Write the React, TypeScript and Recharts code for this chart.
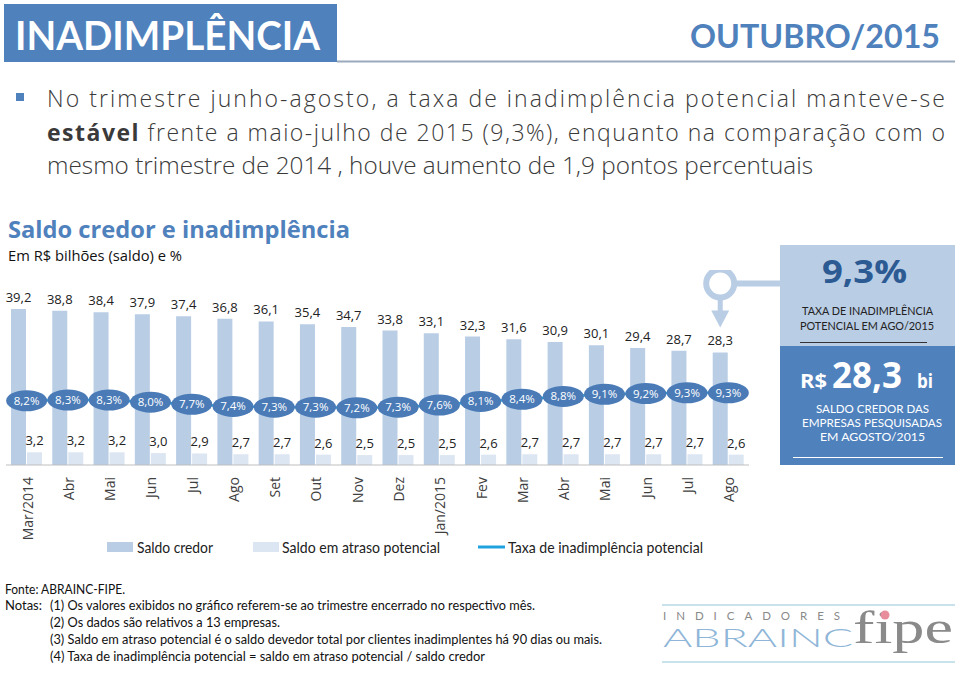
import React from "react";
import { ComposedChart, Bar, Line, XAxis, YAxis, LabelList } from "recharts";

const months = ["Mar/2014", "Abr", "Mai", "Jun", "Jul", "Ago", "Set", "Out", "Nov", "Dez", "Jan/2015", "Fev", "Mar", "Abr", "Mai", "Jun", "Jul", "Ago"];
const saldoCredor = [39.2, 38.8, 38.4, 37.9, 37.4, 36.8, 36.1, 35.4, 34.7, 33.8, 33.1, 32.3, 31.6, 30.9, 30.1, 29.4, 28.7, 28.3];
const saldoAtraso = [3.2, 3.2, 3.2, 3.0, 2.9, 2.7, 2.7, 2.6, 2.5, 2.5, 2.5, 2.6, 2.7, 2.7, 2.7, 2.7, 2.7, 2.6];
const taxaInadimplencia = [8.2, 8.3, 8.3, 8.0, 7.7, 7.4, 7.3, 7.3, 7.2, 7.3, 7.6, 8.1, 8.4, 8.8, 9.1, 9.2, 9.3, 9.3];

const data = months.map((mes, i) => ({
  mes,
  credor: saldoCredor[i],
  atraso: saldoAtraso[i],
  taxa: taxaInadimplencia[i],
}));

const BLUE = "#4f81bd";
const BAR_DARK = "#b9cde5";
const BAR_LIGHT = "#dce6f2";
const LINE = "#1fa2de";
const SEGOE = '"Open Sans", "Noto Sans", sans-serif';
const CALIBRI = 'Lato, "Open Sans", sans-serif';

const fmt = (v: number, d = 1) => v.toFixed(d).replace(".", ",");

const box = (p: any) => {
  const vb = p.viewBox || {};
  return {
    x: vb.x ?? p.x ?? 0,
    y: vb.y ?? p.y ?? 0,
    w: vb.width ?? p.width ?? 0,
  };
};

const CredorLabel = (p: any) => {
  const { x, y, w } = box(p);
  const cx = x + w / 2;
  const last = p.index === data.length - 1;
  return (
    <g>
      <text x={cx} y={y - 7} textAnchor="middle" fontSize={13} fontFamily={SEGOE} fill="#222">
        {fmt(Number(p.value))}
      </text>
      {last && (
        <g>
          <circle cx={cx} cy={y - 69} r={14} fill="none" stroke={BAR_DARK} strokeWidth={6} />
          <line x1={cx + 16} y1={y - 69} x2={cx + 62} y2={y - 69} stroke={BAR_DARK} strokeWidth={6} />
          <rect x={cx - 2.5} y={y - 53} width={5} height={12} fill={BAR_DARK} />
          <polygon points={`${cx - 9},${y - 42} ${cx + 9},${y - 42} ${cx},${y - 25}`} fill={BAR_DARK} />
        </g>
      )}
    </g>
  );
};

const AtrasoLabel = (p: any) => {
  const { x, y, w } = box(p);
  return (
    <text x={x + w / 2} y={y - 7} textAnchor="middle" fontSize={13} fontFamily={SEGOE} fill="#222">
      {fmt(Number(p.value))}
    </text>
  );
};

const TaxaLabel = (p: any) => {
  const { x, y } = box(p);
  return (
    <g>
      <ellipse cx={x} cy={y} rx={20.5} ry={10.5} fill="#4a7bb7" />
      <text x={x} y={y} dy="0.35em" textAnchor="middle" fontSize={11.5} fontFamily={SEGOE} fill="#fff">
        {fmt(Number(p.value))}%
      </text>
    </g>
  );
};

const MonthTick = (p: any) => {
  const { x, y, payload } = p;
  const ty = y + 4;
  return (
    <text
      x={x + 1}
      y={ty}
      transform={`rotate(-90, ${x + 1}, ${ty})`}
      textAnchor="end"
      dy="0.35em"
      fontSize={14}
      fontFamily={SEGOE}
      fill="#404040"
    >
      {payload.value}
    </text>
  );
};

const Page = () => (
  <svg width={960} height={673} style={{ position: "absolute", left: 0, top: 0 }}>
    {/* header */}
    <rect x={4} y={4} width={333} height={58} fill={BLUE} />
    <line x1={337} y1={61.5} x2={955} y2={61.5} stroke="#9aaabb" strokeWidth={2} />
    <text x={15} y={50} fontSize={40} fontWeight={700} fontFamily={CALIBRI} fill="#fff" textLength={305} lengthAdjust="spacingAndGlyphs">
      INADIMPLÊNCIA
    </text>
    <text x={690} y={48} fontSize={33} fontWeight={700} fontFamily={CALIBRI} fill={BLUE} textLength={250} lengthAdjust="spacingAndGlyphs">
      OUTUBRO/2015
    </text>

    {/* paragraph */}
    <rect x={16} y={93} width={8} height={8} fill={BLUE} />
    <g fontFamily={SEGOE} fontSize={23} fontWeight={300} fill="#3a3a3a">
      <text x={47} y={107} textLength={898} lengthAdjust="spacing">
        No trimestre junho-agosto, a taxa de inadimplência potencial manteve-se
      </text>
      <text x={47} y={141} textLength={898} lengthAdjust="spacing">
        <tspan fontWeight={700}>estável</tspan> frente a maio-julho de 2015 (9,3%), enquanto na comparação com o
      </text>
      <text x={47} y={174} textLength={766} lengthAdjust="spacingAndGlyphs">
        mesmo trimestre de 2014 , houve aumento de 1,9 pontos percentuais
      </text>
    </g>

    {/* chart title */}
    <text x={8} y={238} fontSize={24} fontWeight={700} fontFamily={SEGOE} fill={BLUE} textLength={342} lengthAdjust="spacingAndGlyphs">
      Saldo credor e inadimplência
    </text>
    <text x={8} y={261} fontSize={15} fontFamily={SEGOE} fill="#111" textLength={174} lengthAdjust="spacingAndGlyphs">
      Em R$ bilhões (saldo) e %
    </text>

    {/* legend */}
    <rect x={107} y={542} width={26} height={10} fill={BAR_DARK} />
    <text x={137} y={553} fontSize={15} fontFamily={CALIBRI} fill="#222" textLength={76} lengthAdjust="spacingAndGlyphs">Saldo credor</text>
    <rect x={253} y={542} width={26} height={10} fill={BAR_LIGHT} />
    <text x={282} y={553} fontSize={15} fontFamily={CALIBRI} fill="#222" textLength={158} lengthAdjust="spacingAndGlyphs">Saldo em atraso potencial</text>
    <line x1={478} y1={547} x2={505} y2={547} stroke={LINE} strokeWidth={3} />
    <text x={508} y={553} fontSize={15} fontFamily={CALIBRI} fill="#222" textLength={195} lengthAdjust="spacingAndGlyphs">Taxa de inadimplência potencial</text>

    {/* right boxes */}
    <rect x={780} y={245} width={175} height={101} fill={BAR_DARK} />
    <text x={822} y={283} fontSize={32} fontWeight={700} fontFamily={SEGOE} fill="#2c5a93" textLength={85} lengthAdjust="spacingAndGlyphs">9,3%</text>
    <g fontFamily={CALIBRI} fontSize={11.5} fill="#222">
      <text x={802} y={315} textLength={131} lengthAdjust="spacingAndGlyphs">TAXA DE INADIMPLÊNCIA</text>
      <text x={800} y={330} textLength={134} lengthAdjust="spacingAndGlyphs">POTENCIAL  EM AGO/2015</text>
    </g>
    <line x1={800} y1={342.5} x2={927} y2={342.5} stroke="#333" strokeWidth={1} />
    <rect x={780} y={346} width={175} height={119} fill={BLUE} />
    <g fontFamily={SEGOE} fontWeight={700} fill="#fff">
      <text x={800} y={388} fontSize={19} textLength={27} lengthAdjust="spacingAndGlyphs">R$</text>
      <text x={832} y={388} fontSize={36} textLength={70} lengthAdjust="spacingAndGlyphs">28,3</text>
      <text x={917} y={388} fontSize={19} textLength={16} lengthAdjust="spacingAndGlyphs">bi</text>
    </g>
    <g fontFamily={CALIBRI} fontSize={12} fill="#fff">
      <text x={816} y={413} textLength={113} lengthAdjust="spacingAndGlyphs">SALDO CREDOR DAS</text>
      <text x={802} y={427} textLength={140} lengthAdjust="spacingAndGlyphs">EMPRESAS  PESQUISADAS</text>
      <text x={820} y={441} textLength={105} lengthAdjust="spacingAndGlyphs">EM AGOSTO/2015</text>
    </g>
    <line x1={793} y1={457.5} x2={943} y2={457.5} stroke="#fff" strokeWidth={1} />

    {/* notes */}
    <g fontFamily={CALIBRI} fontSize={12.5} fill="#111">
      <text x={5} y={594} textLength={120} lengthAdjust="spacingAndGlyphs">Fonte: ABRAINC-FIPE.</text>
      <text x={5} y={610} textLength={37} lengthAdjust="spacingAndGlyphs">Notas:</text>
      <text x={50} y={610} textLength={485} lengthAdjust="spacingAndGlyphs">(1) Os valores exibidos no gráfico referem-se ao trimestre encerrado no respectivo mês.</text>
      <text x={50} y={627} textLength={230} lengthAdjust="spacingAndGlyphs">(2) Os dados são relativos a 13 empresas.</text>
      <text x={50} y={644} textLength={552} lengthAdjust="spacingAndGlyphs">(3) Saldo em atraso potencial é o saldo devedor total por clientes inadimplentes há 90 dias ou mais.</text>
      <text x={50} y={661} textLength={435} lengthAdjust="spacingAndGlyphs">(4) Taxa de inadimplência potencial = saldo em atraso potencial / saldo credor</text>
    </g>

    {/* logo */}
    <line x1={662} y1={605} x2={955} y2={605} stroke="#b9d8e6" strokeWidth={1.5} />
    <line x1={662} y1={662} x2={955} y2={662} stroke="#b9d8e6" strokeWidth={1.5} />
    <text x={663} y={620} fontSize={11.5} fontFamily={CALIBRI} fill="#8a8a8a" textLength={177} lengthAdjust="spacing">INDICADORES</text>
    <text x={663} y={647} fontSize={25} fontWeight={300} fontFamily={CALIBRI} fill="#8fb6d8" textLength={190} lengthAdjust="spacingAndGlyphs">ABRAINC</text>
    <text x={853} y={643} fontSize={46} fontFamily='"Liberation Serif", "DejaVu Serif", serif' fill="#8a8a8a" textLength={100} lengthAdjust="spacingAndGlyphs">fipe</text>
    <circle cx={885} cy={615} r={4.5} fill="#e88d9b" />
  </svg>
);

export default function App() {
  return (
    <div style={{ position: "absolute", left: 0, top: 0, width: 960, height: 673, background: "#fff", overflow: "hidden" }}>
      <Page />
      <div style={{ position: "absolute", left: 0, top: 270 }}>
        <ComposedChart width={780} height={300} data={data} margin={{ top: 20, right: 31, left: 6, bottom: 0 }} barGap={1}>
          <XAxis
            dataKey="mes"
            height={105}
            interval={0}
            tickLine={false}
            axisLine={{ stroke: "#bfbfbf" }}
            tick={<MonthTick />}
          />
          <YAxis yAxisId="l" hide domain={[0, 44]} />
          <YAxis yAxisId="r" hide domain={[-0.8, 23.7]} allowDataOverflow />
          <Bar yAxisId="l" dataKey="credor" fill={BAR_DARK} barSize={15} isAnimationActive={false}>
            <LabelList dataKey="credor" content={(p: any) => <CredorLabel {...p} />} />
          </Bar>
          <Bar yAxisId="l" dataKey="atraso" fill={BAR_LIGHT} barSize={15} isAnimationActive={false}>
            <LabelList dataKey="atraso" content={(p: any) => <AtrasoLabel {...p} />} />
          </Bar>
          <Line yAxisId="r" dataKey="taxa" stroke={LINE} strokeWidth={2.5} dot={false} isAnimationActive={false}>
            <LabelList dataKey="taxa" content={(p: any) => <TaxaLabel {...p} />} />
          </Line>
        </ComposedChart>
      </div>
    </div>
  );
}
